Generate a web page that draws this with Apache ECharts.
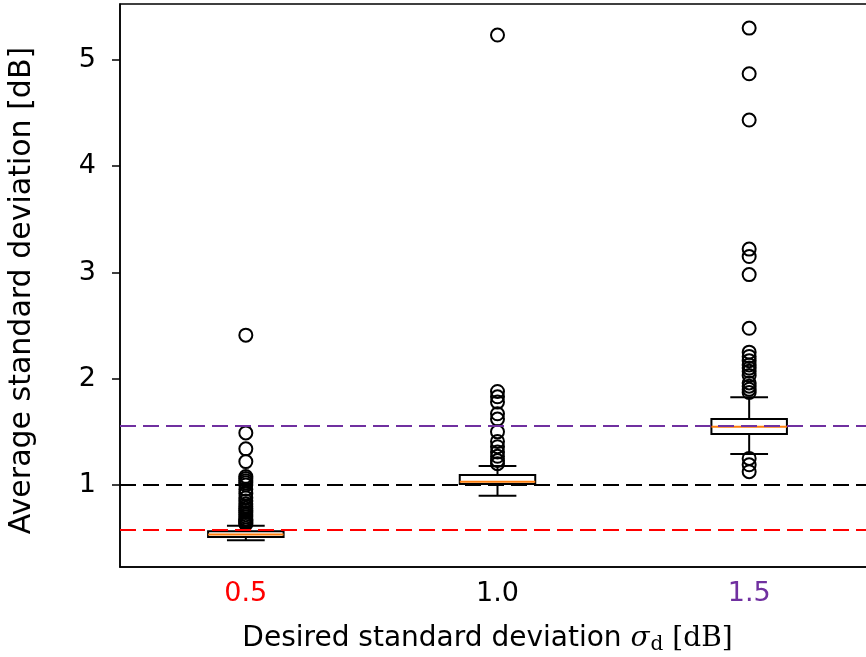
<!DOCTYPE html>
<html>
<head>
<meta charset="utf-8">
<script src="https://cdn.jsdelivr.net/npm/echarts@6/dist/echarts.min.js"></script>
<style>
  html, body { margin: 0; padding: 0; background: #ffffff; }
  #chart { width: 866px; height: 657px; }
</style>
</head>
<body>
<div id="chart"></div>
<script>
// Desired standard deviation groups (x axis)
const categories = ['0.5', '1.0', '1.5'];
const categoryColors = ['#ff0000', '#000000', '#7030a0'];

// Box statistics per group
const whiskerLow  = [0.480, 0.899, 1.292];
const quartile1   = [0.510, 1.010, 1.480];
const medians     = [0.535, 1.031, 1.549];
const quartile3   = [0.565, 1.094, 1.621];
const whiskerHigh = [0.617, 1.179, 1.825];

// Outliers per group
const outliers05 = [2.41, 1.49, 1.34, 1.22, 1.08, 1.06, 1.04, 1.02, 1.00, 0.96, 0.92,
                    0.88, 0.85, 0.82, 0.80, 0.78, 0.76, 0.74, 0.72, 0.70, 0.68, 0.67,
                    0.66, 0.65, 0.64, 0.63];
const outliers10 = [5.235, 1.88, 1.83, 1.78, 1.67, 1.62, 1.50, 1.41, 1.36, 1.31, 1.27,
                    1.23, 1.20];
const outliers15 = [5.30, 4.87, 4.435, 3.22, 3.15, 2.98, 2.475, 2.25, 2.21, 2.17, 2.13,
                    2.10, 2.07, 2.03, 1.96, 1.93, 1.90, 1.87, 1.25, 1.19, 1.125];

// Horizontal reference levels
const refLevels = [0.583, 1.0, 1.557];
const refColors = ['#ff0000', '#000000', '#7030a0'];

// Y axis range and ticks
const yMin = 0.228, yMax = 5.527;
const yTicks = [1, 2, 3, 4, 5];

const boxData = categories.map((c, i) =>
  [i, whiskerLow[i], quartile1[i], medians[i], quartile3[i], whiskerHigh[i]]);

const outlierData = [];
[outliers05, outliers10, outliers15].forEach((arr, i) => {
  arr.forEach(v => outlierData.push([i, v]));
});

const chart = echarts.init(document.getElementById('chart'), null, { renderer: 'canvas' });

function renderBox(params, api) {
  const xi = api.value(0);
  const lo = api.coord([xi, api.value(1)]);
  const q1 = api.coord([xi, api.value(2)]);
  const md = api.coord([xi, api.value(3)]);
  const q3 = api.coord([xi, api.value(4)]);
  const hi = api.coord([xi, api.value(5)]);
  const band = api.size([1, 0])[0];
  const halfBox = band * 0.15;
  const halfCap = band * 0.075;
  const cx = md[0];
  const stroke = { stroke: '#000000', lineWidth: 2, fill: null };
  return {
    type: 'group',
    children: [
      { type: 'line', shape: { x1: cx, y1: q3[1], x2: cx, y2: hi[1] }, style: stroke },
      { type: 'line', shape: { x1: cx, y1: q1[1], x2: cx, y2: lo[1] }, style: stroke },
      { type: 'line', shape: { x1: cx - halfCap, y1: hi[1], x2: cx + halfCap, y2: hi[1] }, style: stroke },
      { type: 'line', shape: { x1: cx - halfCap, y1: lo[1], x2: cx + halfCap, y2: lo[1] }, style: stroke },
      { type: 'rect', shape: { x: cx - halfBox, y: q3[1], width: halfBox * 2, height: q1[1] - q3[1] },
        style: { stroke: '#000000', lineWidth: 2, fill: '#ffffff' } },
      { type: 'line', shape: { x1: cx - halfBox, y1: md[1], x2: cx + halfBox, y2: md[1] },
        style: { stroke: '#ff7f0e', lineWidth: 2 } }
    ]
  };
}

const option = {
  backgroundColor: '#ffffff',
  animation: false,
  grid: {
    left: 120, top: 4, width: 755, height: 563,
    outerBoundsMode: 'none',
    containLabel: false,
    show: true, borderColor: '#000000', borderWidth: 1.5, backgroundColor: 'transparent'
  },
  xAxis: {
    type: 'category',
    data: categories,
    boundaryGap: true,
    axisLine: { lineStyle: { color: '#000000', width: 1.5 } },
    axisTick: { alignWithLabel: true, length: 7, lineStyle: { color: '#000000', width: 1.5 } },
    axisLabel: {
      fontFamily: 'DejaVu Sans', fontSize: 27, margin: 13,
      color: (value, index) => categoryColors[index]
    },
    splitLine: { show: false },
    name: 'Desired standard deviation {sig|σ}{sub|d}{unit| [dB]}',
    nameLocation: 'middle',
    nameGap: 56,
    nameMoveOverlap: false,
    nameTextStyle: {
      fontFamily: 'DejaVu Sans', fontSize: 28, color: '#000000',
      padding: [0, 20, 0, 0],
      rich: {
        sig: { fontFamily: 'DejaVu Serif', fontStyle: 'italic', fontSize: 28, color: '#000000' },
        sub: { fontFamily: 'DejaVu Serif', fontSize: 20, color: '#000000', padding: [12, 0, 0, 1] },
        unit: { fontFamily: 'DejaVu Serif', fontSize: 28, color: '#000000' }
      }
    }
  },
  yAxis: {
    type: 'value',
    min: yMin,
    max: yMax,
    axisLine: { show: true, lineStyle: { color: '#000000', width: 1.5 } },
    axisTick: { show: true, length: 8, customValues: yTicks, lineStyle: { color: '#000000', width: 1.5 } },
    axisLabel: { customValues: yTicks, fontFamily: 'DejaVu Sans', fontSize: 27, color: '#000000', margin: 24 },
    splitLine: { show: false },
    name: 'Average standard deviation [dB]',
    nameLocation: 'middle',
    nameGap: 83,
    nameRotate: 90,
    nameMoveOverlap: false,
    nameTextStyle: { fontFamily: 'DejaVu Sans', fontSize: 30, color: '#000000', padding: [0, 10, 0, 0] }
  },
  series: [
    {
      type: 'custom',
      renderItem: renderBox,
      data: boxData,
      encode: { x: 0, y: [1, 2, 3, 4, 5] },
      z: 2,
      silent: true
    },
    {
      type: 'scatter',
      data: outlierData,
      symbol: 'circle',
      symbolSize: 13,
      itemStyle: { color: 'rgba(0,0,0,0)', borderColor: '#000000', borderWidth: 2, opacity: 1 },
      z: 3,
      silent: true,
      markLine: {
        silent: true,
        symbol: ['none', 'none'],
        label: { show: false },
        lineStyle: { type: [16, 7], width: 2 },
        data: refLevels.map((v, i) => ({ yAxis: v, lineStyle: { color: refColors[i], type: [16, 7], width: 2 } }))
      }
    }
  ]
};

chart.setOption(option);
</script>
</body>
</html>
